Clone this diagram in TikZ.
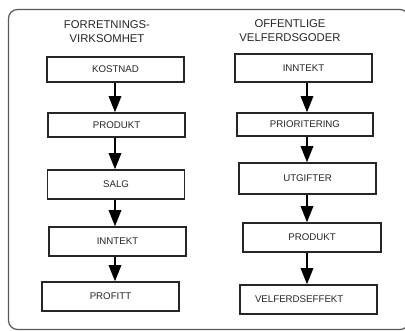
\documentclass[tikz,border=0pt]{standalone}
\usepackage{fontspec}
\setmainfont{Liberation Sans}
\usetikzlibrary{arrows.meta}
\definecolor{txt}{HTML}{262626}
\begin{document}
\begin{tikzpicture}[x=1pt,y=-1pt,
  box/.style={draw=black!85, line width=1.5pt, minimum width=137pt, inner sep=0pt,
    font=\fontsize{9.7}{11}\selectfont, text=txt},
  ttl/.style={align=center, font=\fontsize{11.3}{14}\selectfont, text=txt, inner sep=0pt},
  arr/.style={line width=1.5pt, draw=black, -{Triangle[length=16pt,width=12.5pt]}}]
\useasboundingbox (0,0) rectangle (405,331);
\begin{scope}
\clip (0,0) rectangle (405,331);
\draw[black!65, line width=1.2pt, rounded corners=9pt] (8.5,9.5) rectangle (409,329.5);
\end{scope}
% titles
\node[ttl] (t1) at (107,32) {FORRETNINGS-\\VIRKSOMHET};
\node[ttl] (t2) at (290,30.5) {OFFENTLIGE\\VELFERDSGODER};
% left column
\node[box, minimum height=25pt] (l1) at (115.5,69.5) {KOSTNAD};
\node[box, minimum height=24pt] (l2) at (116.5,125) {PRODUKT};
\node[box, minimum height=29pt] (l3) at (116,184.5) {SALG};
\node[box, minimum height=29pt] (l4) at (117.5,241.5) {INNTEKT};
\node[box, minimum height=29pt] (l5) at (110.5,296.5) {PROFITT};
% right column
\node[box, minimum height=28pt] (r1) at (303.5,68) {INNTEKT};
\node[box, minimum height=23pt, minimum width=136pt] (r2) at (305,124.5) {PRIORITERING};
\node[box, minimum height=31pt] (r3) at (307.5,178.5) {UTGIFTER};
\node[box, minimum height=29pt, minimum width=138pt] (r4) at (312,237.5) {PRODUKT};
\node[box, minimum height=29pt, minimum width=137pt, text width=137pt, align=left] (r5) at (308.5,299.5) {\hspace*{15pt}VELFERDSEFFEKT};
% arrows
\coordinate (lx) at (115,0);
\coordinate (rx) at (307,0);
\draw[arr] (l1.south -| lx) -- (l2.north -| lx);
\draw[arr] (l2.south -| lx) -- (l3.north -| lx);
\draw[arr] (l3.south -| lx) -- (l4.north -| lx);
\draw[arr] (l4.south -| lx) -- (l5.north -| lx);
\draw[arr] (r1.south -| rx) -- (r2.north -| rx);
\draw[arr] (r2.south -| rx) -- (r3.north -| rx);
\draw[arr] (r3.south -| rx) -- (r4.north -| rx);
\draw[arr] (r4.south -| rx) -- (r5.north -| rx);
\end{tikzpicture}
\end{document}
